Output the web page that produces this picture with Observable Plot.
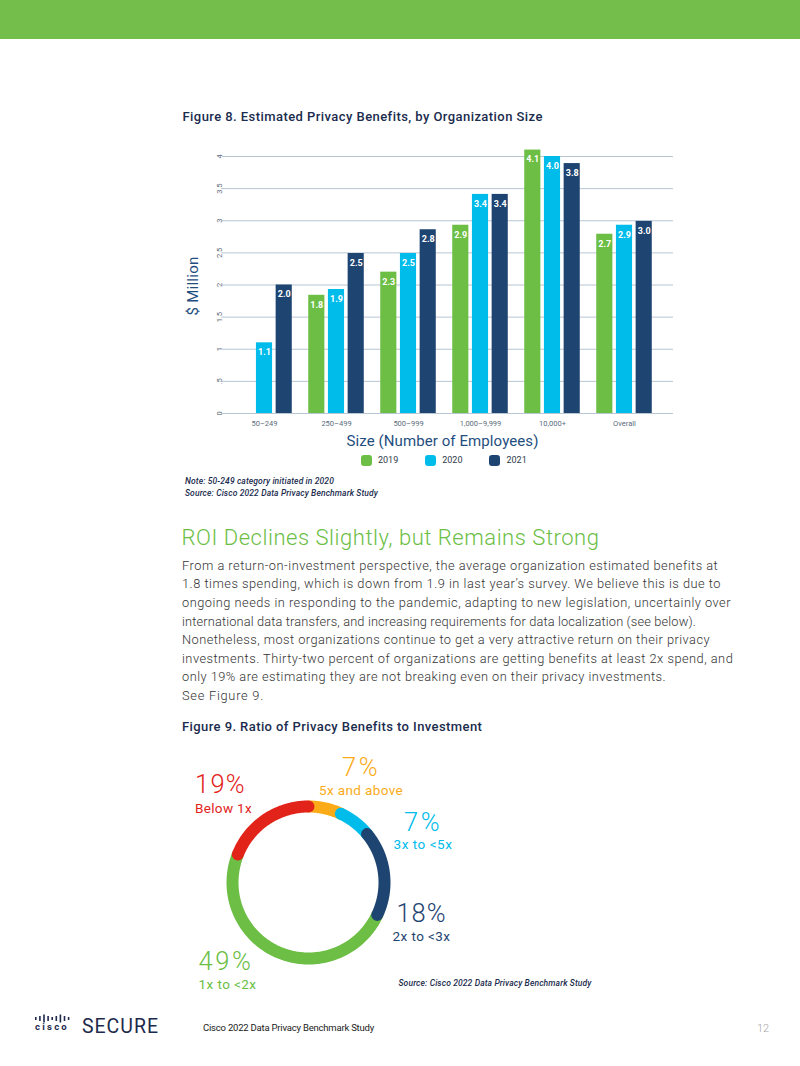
<!DOCTYPE html>
<html>
<head>
<meta charset="utf-8">
<script src="https://cdn.jsdelivr.net/npm/d3@7"></script>
<script src="https://cdn.jsdelivr.net/npm/@observablehq/plot@0.6"></script>
<style>
  html, body { margin: 0; padding: 0; background: #fff; }
  body { width: 800px; height: 1066px; position: relative; overflow: hidden; font-family: Roboto, "Liberation Sans", sans-serif; }
  .t { position: absolute; white-space: nowrap; line-height: 0.9; }
  #topbar { position: absolute; left: 0; top: 0; width: 800px; height: 39px; background: #74bf4b; }
  .abs { position: absolute; }
  .abs svg { overflow: visible; }
</style>
</head>
<body>
<div id="topbar"></div>
<div id="bars" class="abs" style="left:0;top:140px"></div>
<div id="ring" class="abs" style="left:217.5px;top:791.7px"></div>
<script>
// ---------------- data ----------------
const sizes = ["50–249", "250–499", "500–999", "1,000–9,999", "10,000+", "Overall"];
const years = ["2019", "2020", "2021"];
const yearColors = ["#6cbe45", "#00bceb", "#1e4471"];
const values2019 = [null, 1.84, 2.2, 2.93, 4.1, 2.79];
const values2020 = [1.1, 1.93, 2.49, 3.41, 4.0, 2.93];
const values2021 = [2.0, 2.49, 2.86, 3.41, 3.89, 2.99];
const labels2019 = [null, "1.8", "2.3", "2.9", "4.1", "2.7"];
const labels2020 = ["1.1", "1.9", "2.5", "3.4", "4.0", "2.9"];
const labels2021 = ["2.0", "2.5", "2.8", "3.4", "3.8", "3.0"];
const yTicks = [0, 0.5, 1, 1.5, 2, 2.5, 3, 3.5, 4];
const yTickLabels = ["0", ".5", "1", "1.5", "2", "2.5", "3", "3.5", "4"];

const ringLabels = ["5x and above", "3x to <5x", "2x to <3x", "1x to <2x", "Below 1x"];
const ringValues = [7, 7, 18, 49, 19];
const ringColors = ["#fbab18", "#00bceb", "#1e4471", "#6cbe45", "#e2231a"];

const paragraphLines = [
  "From a return-on-investment perspective, the average organization estimated benefits at",
  "1.8 times spending, which is down from 1.9 in last year’s survey. We believe this is due to",
  "ongoing needs in responding to the pandemic, adapting to new legislation, uncertainly over",
  "international data transfers, and increasing requirements for data localization (see below).",
  "Nonetheless, most organizations continue to get a very attractive return on their privacy",
  "investments. Thirty-two percent of organizations are getting benefits at least 2x spend, and",
  "only 19% are estimating they are not breaking even on their privacy investments.",
  "See Figure 9."
];
// layout: measured widths of the paragraph lines in the reference (px)
const paragraphWidths = [536, 539, 549, 514, 528, 551, 484, 82];

// ---------------- text helper ----------------
const ASC = 0.792; // baseline offset (em) for Roboto with line-height 0.9
const fits = [];
function addText(text, o) {
  const d = document.createElement("div");
  d.className = "t";
  d.textContent = text;
  const s = o.size;
  d.style.fontSize = s + "px";
  d.style.top = (o.base - ASC * s) + "px";
  d.style.left = o.x + "px";
  if (o.weight) d.style.fontWeight = o.weight;
  if (o.color) d.style.color = o.color;
  if (o.italic) d.style.fontStyle = "italic";
  if (o.font) d.style.fontFamily = o.font;
  if (o.align === "center") d.style.transform = "translateX(-50%)";
  document.body.appendChild(d);
  if (o.fit) fits.push([d, o.fit]);
  return d;
}
function measure(d) {
  const tr = d.style.transform;
  d.style.transform = "none";
  const r = document.createRange();
  r.selectNodeContents(d);
  const w = r.getBoundingClientRect().width;
  d.style.transform = tr;
  return w;
}
function applyFits() {
  for (const [d] of fits) d.style.letterSpacing = "0px";
  const ws = fits.map(([d]) => measure(d));
  fits.forEach(([d, target], i) => {
    const n = [...d.textContent].length;
    d.style.letterSpacing = ((target - ws[i]) / n) + "px";
  });
}

// ---------------- Figure 8: grouped bars ----------------
const values = [values2019, values2020, values2021];
const labels = [labels2019, labels2020, labels2021];
const rows = years.flatMap((year, j) =>
  sizes.map((size, i) => ({size, year, value: values[j][i], label: labels[j][i]}))
).filter(d => d.value != null);

const W = 800, mL = 222, mR = 127, insL = 5.6, insR = 11.8;
const bandwidth = (W - mL - mR - insL - insR) / sizes.length;
const barWidth = 16.4, barStep = 19.7;
const barInset = (bandwidth - barWidth) / 2;

const barMarks = years.map((year, j) => Plot.barY(rows.filter(d => d.year === year), {
  x: "size", y: "value", fill: "year", dx: (j - 1) * barStep, insetLeft: barInset, insetRight: barInset
}));
const valueMarks = years.map((year, j) => Plot.text(rows.filter(d => d.year === year), {
  x: "size", y: "value", text: "label", dx: (j - 1) * barStep, dy: 9.5,
  fill: "white", fontSize: 9, fontWeight: "bold"
}));

const bars = Plot.plot({
  width: W, height: 300,
  marginLeft: mL, marginRight: mR, marginTop: 16, marginBottom: 27,
  style: {fontFamily: "Roboto, sans-serif", fontSize: "7.5px", color: "#5b6b7b", background: "transparent"},
  x: {domain: sizes, padding: 0, insetLeft: insL, insetRight: insR, tickSize: 0, tickPadding: 7, label: null},
  y: {domain: [0, 4], ticks: yTicks, tickFormat: d => yTickLabels[yTicks.indexOf(d)], tickRotate: -90, tickSize: 0, tickPadding: 1, label: null},
  color: {domain: years, range: yearColors},
  marks: [
    Plot.ruleY(yTicks, {stroke: "#b7c6d3", strokeWidth: 1}),
    ...barMarks,
    ...valueMarks
  ]
});
document.getElementById("bars").appendChild(bars);

// titles
addText("Figure 8. Estimated Privacy Benefits, by Organization Size", {x: 182.5, base: 121, size: 13, weight: 500, color: "#1b2c4e", fit: 360});
const yl = addText("$ Million", {x: 194, base: 0, size: 15, color: "#1f4e7e", fit: 59});
yl.style.top = "286px";
yl.style.transform = "translate(-50%, -50%) rotate(-90deg)";
addText("Size (Number of Employees)", {x: 442.5, base: 447, size: 15, color: "#1f4e7e", align: "center", fit: 192});

// legend
const legend = document.createElement("div");
legend.style.cssText = "position:absolute;left:361px;top:455px;display:flex;align-items:center;gap:27px;";
years.forEach((y, j) => {
  const item = document.createElement("div");
  item.style.cssText = "display:flex;align-items:center;gap:6px;font-size:9px;color:#2f3b4c;line-height:1;";
  const sw = document.createElement("span");
  sw.style.cssText = `display:inline-block;width:11px;height:11px;border-radius:3px;background:${yearColors[j]};`;
  const tx = document.createElement("span");
  tx.textContent = y;
  item.appendChild(sw); item.appendChild(tx);
  legend.appendChild(item);
});
document.body.appendChild(legend);

addText("Note: 50-249 category initiated in 2020", {x: 185, base: 485, size: 8.5, italic: true, weight: 500, color: "#1b2c4e", fit: 149});
addText("Source: Cisco 2022 Data Privacy Benchmark Study", {x: 185, base: 497, size: 8.5, italic: true, weight: 500, color: "#1b2c4e", fit: 193});

// ---------------- Section text ----------------
addText("ROI Declines Slightly, but Remains Strong", {x: 181.5, base: 545, size: 22, weight: 300, color: "#6cbe45", fit: 418});
paragraphLines.forEach((line, i) => {
  addText(line, {x: 182, base: 570 + i * 18.6, size: 12.8, weight: 300, color: "#333", fit: paragraphWidths[i]});
});
addText("Figure 9. Ratio of Privacy Benefits to Investment", {x: 182, base: 731.5, size: 13, weight: 500, color: "#1b2c4e", fit: 300});

// ---------------- Figure 9: ring ----------------
const arcs = d3.pie().sort(null).value(d => d)(ringValues);
const drawOrder = [0, 1, 3, 2, 4];
const ringPoints = [];
for (const k of drawOrder) {
  const a = arcs[k];
  const n = Math.ceil((a.endAngle - a.startAngle) / (Math.PI / 180));
  for (let s = 0; s <= n; s++) {
    const t = a.startAngle + (a.endAngle - a.startAngle) * s / n;
    ringPoints.push({label: ringLabels[k], x: Math.sin(t), y: Math.cos(t)});
  }
}
const ringSize = 180, ringRadius = 76, R = (ringSize / 2) / ringRadius;
const ring = Plot.plot({
  width: ringSize, height: ringSize, margin: 0,
  style: {background: "transparent"},
  x: {domain: [-R, R], axis: null},
  y: {domain: [-R, R], axis: null},
  color: {domain: ringLabels, range: ringColors},
  marks: [
    Plot.line(ringPoints, {x: "x", y: "y", z: "label", stroke: "label", strokeWidth: 12, strokeLinecap: "round"})
  ]
});
document.getElementById("ring").appendChild(ring);

// ring labels (layout positions and widths, in order of ringLabels)
const ringLabelLayout = [
  {x: 361, num: 776, txt: 794.5, align: "center", wn: 38, wt: 84},
  {x: 423, num: 831.5, txt: 849, align: "center", wn: 38, wt: 59},
  {x: 421.5, num: 922, txt: 940.5, align: "center", wn: 50, wt: 58},
  {x: 198.5, num: 970.5, txt: 988.5, align: "left", wn: 55, wt: 58},
  {x: 195, num: 793, txt: 812.5, align: "left", wn: 51, wt: 57}
];
ringLabels.forEach((lab, k) => {
  const L = ringLabelLayout[k];
  addText(ringValues[k] + "%", {x: L.x, base: L.num, size: 25.5, weight: 300, color: ringColors[k], align: L.align, fit: L.wn});
  addText(lab, {x: L.x, base: L.txt, size: 13.5, weight: 400, color: ringColors[k], align: L.align, fit: L.wt});
});
addText("Source: Cisco 2022 Data Privacy Benchmark Study", {x: 398.5, base: 987, size: 8.5, italic: true, weight: 500, color: "#1b2c4e", fit: 193});

// ---------------- footer ----------------
const logo = document.createElementNS("http://www.w3.org/2000/svg", "svg");
logo.setAttribute("width", 40); logo.setAttribute("height", 12);
logo.style.cssText = "position:absolute;left:34px;top:1013px;";
[3, 5, 8, 5, 3, 5, 8, 5, 3].forEach((h, i) => {
  const r = document.createElementNS("http://www.w3.org/2000/svg", "rect");
  r.setAttribute("x", 1 + i * 4.1); r.setAttribute("y", 5 - h / 2 + 0.5);
  r.setAttribute("width", 1.6); r.setAttribute("height", h);
  r.setAttribute("fill", "#1e2a4b");
  logo.appendChild(r);
});
document.body.appendChild(logo);
addText("cisco", {x: 35, base: 1031, size: 9.5, weight: 700, color: "#1e2a4b", fit: 34});
addText("SECURE", {x: 82, base: 1033, size: 19.5, weight: 400, color: "#1e2a4b", fit: 77});
addText("Cisco 2022 Data Privacy Benchmark Study", {x: 203, base: 1032, size: 9.5, weight: 400, color: "#222", fit: 171});
addText("12", {x: 757, base: 1033, size: 11, weight: 300, color: "#a8a8a8"});

applyFits();
if (document.fonts && document.fonts.ready) document.fonts.ready.then(applyFits);
</script>
</body>
</html>
